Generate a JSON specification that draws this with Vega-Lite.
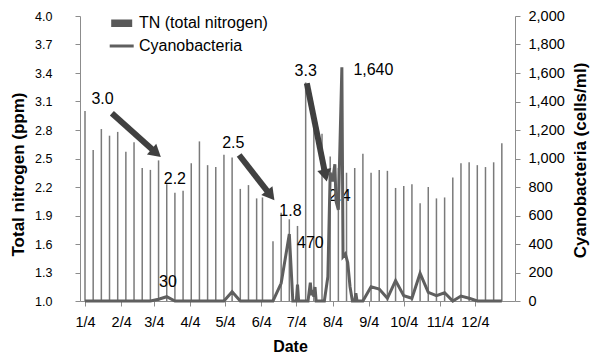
{
  "$schema": "https://vega.github.io/schema/vega-lite/v6.json",
  "width": 435,
  "height": 285,
  "autosize": {"type": "none"},
  "padding": {"left": 80, "top": 16, "right": 78, "bottom": 54},
  "background": "white",
  "config": {
    "view": {"stroke": null},
    "font": "Liberation Sans",
    "axis": {"grid": false, "domainColor": "#8c8c8c", "tickColor": "#8c8c8c", "tickSize": 5, "labelColor": "#000000", "titleColor": "#000000", "labelFont": "Liberation Sans", "titleFont": "Liberation Sans", "titleFontWeight": "bold"}
  },
  "datasets": {
    "tn": [
      {"date": "2011-01-04", "tn": 3.00, "series": "TN (total nitrogen)"},
      {"date": "2011-01-11", "tn": 2.59, "series": "TN (total nitrogen)"},
      {"date": "2011-01-18", "tn": 2.81, "series": "TN (total nitrogen)"},
      {"date": "2011-01-25", "tn": 2.74, "series": "TN (total nitrogen)"},
      {"date": "2011-02-01", "tn": 2.78, "series": "TN (total nitrogen)"},
      {"date": "2011-02-08", "tn": 2.57, "series": "TN (total nitrogen)"},
      {"date": "2011-02-15", "tn": 2.67, "series": "TN (total nitrogen)"},
      {"date": "2011-02-22", "tn": 2.40, "series": "TN (total nitrogen)"},
      {"date": "2011-03-01", "tn": 2.38, "series": "TN (total nitrogen)"},
      {"date": "2011-03-08", "tn": 2.48, "series": "TN (total nitrogen)"},
      {"date": "2011-03-15", "tn": 2.23, "series": "TN (total nitrogen)"},
      {"date": "2011-03-22", "tn": 2.14, "series": "TN (total nitrogen)"},
      {"date": "2011-03-29", "tn": 2.16, "series": "TN (total nitrogen)"},
      {"date": "2011-04-05", "tn": 2.45, "series": "TN (total nitrogen)"},
      {"date": "2011-04-12", "tn": 2.68, "series": "TN (total nitrogen)"},
      {"date": "2011-04-19", "tn": 2.43, "series": "TN (total nitrogen)"},
      {"date": "2011-04-26", "tn": 2.41, "series": "TN (total nitrogen)"},
      {"date": "2011-05-03", "tn": 2.54, "series": "TN (total nitrogen)"},
      {"date": "2011-05-10", "tn": 2.51, "series": "TN (total nitrogen)"},
      {"date": "2011-05-17", "tn": 2.18, "series": "TN (total nitrogen)"},
      {"date": "2011-05-24", "tn": 2.22, "series": "TN (total nitrogen)"},
      {"date": "2011-05-31", "tn": 2.08, "series": "TN (total nitrogen)"},
      {"date": "2011-06-05", "tn": 2.09, "series": "TN (total nitrogen)"},
      {"date": "2011-06-14", "tn": 1.63, "series": "TN (total nitrogen)"},
      {"date": "2011-06-21", "tn": 1.93, "series": "TN (total nitrogen)"},
      {"date": "2011-06-28", "tn": 1.86, "series": "TN (total nitrogen)"},
      {"date": "2011-07-05", "tn": 1.79, "series": "TN (total nitrogen)"},
      {"date": "2011-07-12", "tn": 3.30, "series": "TN (total nitrogen)"},
      {"date": "2011-07-19", "tn": 2.82, "series": "TN (total nitrogen)"},
      {"date": "2011-07-26", "tn": 2.76, "series": "TN (total nitrogen)"},
      {"date": "2011-08-02", "tn": 2.52, "series": "TN (total nitrogen)"},
      {"date": "2011-08-09", "tn": 2.40, "series": "TN (total nitrogen)"},
      {"date": "2011-08-16", "tn": 2.35, "series": "TN (total nitrogen)"},
      {"date": "2011-08-23", "tn": 2.40, "series": "TN (total nitrogen)"},
      {"date": "2011-08-30", "tn": 2.55, "series": "TN (total nitrogen)"},
      {"date": "2011-09-06", "tn": 2.35, "series": "TN (total nitrogen)"},
      {"date": "2011-09-13", "tn": 2.38, "series": "TN (total nitrogen)"},
      {"date": "2011-09-20", "tn": 2.37, "series": "TN (total nitrogen)"},
      {"date": "2011-09-27", "tn": 2.19, "series": "TN (total nitrogen)"},
      {"date": "2011-10-04", "tn": 2.21, "series": "TN (total nitrogen)"},
      {"date": "2011-10-11", "tn": 2.23, "series": "TN (total nitrogen)"},
      {"date": "2011-10-18", "tn": 2.03, "series": "TN (total nitrogen)"},
      {"date": "2011-10-25", "tn": 2.20, "series": "TN (total nitrogen)"},
      {"date": "2011-11-01", "tn": 2.08, "series": "TN (total nitrogen)"},
      {"date": "2011-11-08", "tn": 2.09, "series": "TN (total nitrogen)"},
      {"date": "2011-11-15", "tn": 2.30, "series": "TN (total nitrogen)"},
      {"date": "2011-11-22", "tn": 2.45, "series": "TN (total nitrogen)"},
      {"date": "2011-11-29", "tn": 2.46, "series": "TN (total nitrogen)"},
      {"date": "2011-12-06", "tn": 2.43, "series": "TN (total nitrogen)"},
      {"date": "2011-12-13", "tn": 2.41, "series": "TN (total nitrogen)"},
      {"date": "2011-12-20", "tn": 2.46, "series": "TN (total nitrogen)"},
      {"date": "2011-12-27", "tn": 2.66, "series": "TN (total nitrogen)"}
    ],
    "cyano": [
      {"date": "2011-01-04", "cells": 0, "series": "Cyanobacteria"},
      {"date": "2011-03-01", "cells": 0, "series": "Cyanobacteria"},
      {"date": "2011-03-08", "cells": 12, "series": "Cyanobacteria"},
      {"date": "2011-03-15", "cells": 30, "series": "Cyanobacteria"},
      {"date": "2011-03-22", "cells": 0, "series": "Cyanobacteria"},
      {"date": "2011-05-03", "cells": 0, "series": "Cyanobacteria"},
      {"date": "2011-05-10", "cells": 65, "series": "Cyanobacteria"},
      {"date": "2011-05-17", "cells": 0, "series": "Cyanobacteria"},
      {"date": "2011-06-14", "cells": 0, "series": "Cyanobacteria"},
      {"date": "2011-06-21", "cells": 124, "series": "Cyanobacteria"},
      {"date": "2011-06-28", "cells": 470, "series": "Cyanobacteria"},
      {"date": "2011-07-01", "cells": 0, "series": "Cyanobacteria"},
      {"date": "2011-07-04", "cells": 0, "series": "Cyanobacteria"},
      {"date": "2011-07-05", "cells": 115, "series": "Cyanobacteria"},
      {"date": "2011-07-06", "cells": 0, "series": "Cyanobacteria"},
      {"date": "2011-07-14", "cells": 0, "series": "Cyanobacteria"},
      {"date": "2011-07-16", "cells": 128, "series": "Cyanobacteria"},
      {"date": "2011-07-17", "cells": 40, "series": "Cyanobacteria"},
      {"date": "2011-07-18", "cells": 77, "series": "Cyanobacteria"},
      {"date": "2011-07-19", "cells": 30, "series": "Cyanobacteria"},
      {"date": "2011-07-20", "cells": 98, "series": "Cyanobacteria"},
      {"date": "2011-07-21", "cells": 0, "series": "Cyanobacteria"},
      {"date": "2011-07-28", "cells": 0, "series": "Cyanobacteria"},
      {"date": "2011-07-31", "cells": 170, "series": "Cyanobacteria"},
      {"date": "2011-08-02", "cells": 900, "series": "Cyanobacteria"},
      {"date": "2011-08-04", "cells": 840, "series": "Cyanobacteria"},
      {"date": "2011-08-06", "cells": 960, "series": "Cyanobacteria"},
      {"date": "2011-08-07", "cells": 700, "series": "Cyanobacteria"},
      {"date": "2011-08-09", "cells": 640, "series": "Cyanobacteria"},
      {"date": "2011-08-12", "cells": 1640, "series": "Cyanobacteria"},
      {"date": "2011-08-13", "cells": 311, "series": "Cyanobacteria"},
      {"date": "2011-08-15", "cells": 330, "series": "Cyanobacteria"},
      {"date": "2011-08-17", "cells": 270, "series": "Cyanobacteria"},
      {"date": "2011-08-19", "cells": 100, "series": "Cyanobacteria"},
      {"date": "2011-08-21", "cells": 0, "series": "Cyanobacteria"},
      {"date": "2011-08-23", "cells": 0, "series": "Cyanobacteria"},
      {"date": "2011-08-24", "cells": 55, "series": "Cyanobacteria"},
      {"date": "2011-08-25", "cells": 0, "series": "Cyanobacteria"},
      {"date": "2011-08-30", "cells": 0, "series": "Cyanobacteria"},
      {"date": "2011-09-06", "cells": 100, "series": "Cyanobacteria"},
      {"date": "2011-09-13", "cells": 84, "series": "Cyanobacteria"},
      {"date": "2011-09-20", "cells": 19, "series": "Cyanobacteria"},
      {"date": "2011-09-27", "cells": 143, "series": "Cyanobacteria"},
      {"date": "2011-10-04", "cells": 37, "series": "Cyanobacteria"},
      {"date": "2011-10-11", "cells": 19, "series": "Cyanobacteria"},
      {"date": "2011-10-18", "cells": 194, "series": "Cyanobacteria"},
      {"date": "2011-10-25", "cells": 61, "series": "Cyanobacteria"},
      {"date": "2011-11-01", "cells": 37, "series": "Cyanobacteria"},
      {"date": "2011-11-08", "cells": 58, "series": "Cyanobacteria"},
      {"date": "2011-11-15", "cells": 0, "series": "Cyanobacteria"},
      {"date": "2011-11-22", "cells": 35, "series": "Cyanobacteria"},
      {"date": "2011-11-29", "cells": 19, "series": "Cyanobacteria"},
      {"date": "2011-12-06", "cells": 0, "series": "Cyanobacteria"},
      {"date": "2011-12-27", "cells": 0, "series": "Cyanobacteria"}
    ],
    "tnlabels": [
      {"label": "3.0", "date": "2011-01-19", "tn": 3.126},
      {"label": "2.2", "date": "2011-03-22", "tn": 2.284},
      {"label": "2.5", "date": "2011-05-11", "tn": 2.663},
      {"label": "1.8", "date": "2011-06-29", "tn": 1.947},
      {"label": "3.3", "date": "2011-07-12", "tn": 3.421},
      {"label": "2.4", "date": "2011-08-10", "tn": 2.105}
    ],
    "arrows": [
      {"id": 1, "date": "2011-03-06", "tn": 2.557, "date2": "2011-01-27", "tn2": 2.976},
      {"id": 2, "date": "2011-06-12", "tn": 2.112, "date2": "2011-05-16", "tn2": 2.537},
      {"id": 3, "date": "2011-07-29", "tn": 2.321, "date2": "2011-07-13", "tn2": 3.292}
    ],
    "cyanolabels": [
      {"label": "30", "date": "2011-03-16", "cells": 130},
      {"label": "470", "date": "2011-07-16", "cells": 407},
      {"label": "1,640", "date": "2011-09-08", "cells": 1621}
    ]
  },
  "encoding": {
    "x": {
      "field": "date", "type": "temporal",
      "scale": {"type": "utc", "domain": [{"year": 2011, "month": 1, "date": 4, "utc": true}, {"year": 2012, "month": 1, "date": 3, "utc": true}]},
      "axis": {
        "title": "Date",
        "values": [
          {"year": 2011, "month": 1, "date": 4, "utc": true},
          {"year": 2011, "month": 2, "date": 4, "utc": true},
          {"year": 2011, "month": 3, "date": 4, "utc": true},
          {"year": 2011, "month": 4, "date": 4, "utc": true},
          {"year": 2011, "month": 5, "date": 4, "utc": true},
          {"year": 2011, "month": 6, "date": 4, "utc": true},
          {"year": 2011, "month": 7, "date": 4, "utc": true},
          {"year": 2011, "month": 8, "date": 4, "utc": true},
          {"year": 2011, "month": 9, "date": 4, "utc": true},
          {"year": 2011, "month": 10, "date": 4, "utc": true},
          {"year": 2011, "month": 11, "date": 4, "utc": true},
          {"year": 2011, "month": 12, "date": 4, "utc": true}
        ],
        "format": "%-m/%-d",
        "labelFontSize": 14.5, "labelPadding": 9, "labelFlush": false, "labelOverlap": false,
        "titleFontSize": 16, "titleX": 210, "titleY": 45, "titleAlign": "center", "titleBaseline": "middle"
      }
    }
  },
  "layer": [
    {
      "encoding": {
        "y": {
          "field": "tn", "type": "quantitative",
          "scale": {"domain": [1, 4], "nice": false, "zero": false},
          "axis": {
            "title": "Total nitrogen (ppm)",
            "values": [1.0, 1.3, 1.6, 1.9, 2.2, 2.5, 2.8, 3.1, 3.4, 3.7, 4.0],
            "format": ".1f", "labelFontSize": 12.5, "labelPadding": 23, "labelOverlap": false,
            "titleFontSize": 17, "titleAngle": -90, "titleX": -61.5, "titleY": 158, "titleAlign": "center", "titleBaseline": "middle"
          }
        }
      },
      "layer": [
        {
          "data": {"name": "tn"},
          "mark": {"type": "bar", "width": 1.5, "opacity": 0.8},
          "encoding": {
            "y2": {"datum": 1},
            "color": {
              "field": "series", "type": "nominal",
              "scale": {"domain": ["TN (total nitrogen)", "Cyanobacteria"], "range": ["#595959", "#5f5f5f"]},
              "legend": {
                "title": null, "orient": "none", "legendX": 33.7, "legendY": -0.7, "padding": 0,
                "labelFont": "Liberation Sans", "labelFontSize": 16, "labelColor": "#000000",
                "labelOffset": 9.3, "rowPadding": 5.7, "symbolSize": 100, "symbolOpacity": 1, "symbolStrokeWidth": 3,
                "encode": {
                  "symbols": {
                    "update": {
                      "shape": {"signal": "datum.value === 'Cyanobacteria' ? 'M-2.4,0H2.4' : 'M-2.1,-0.45H2.1M-2.1,0H2.1M-2.1,0.45H2.1'"},
                      "strokeWidth": {"value": 3},
                      "opacity": {"value": 1}
                    }
                  }
                }
              }
            }
          }
        },
        {
          "data": {"name": "arrows"},
          "mark": {"type": "rule", "strokeWidth": 6, "color": "#404040", "strokeCap": "butt"},
          "encoding": {
            "x2": {"field": "date2"},
            "y2": {"field": "tn2"}
          }
        },
        {
          "data": {"name": "arrows"},
          "transform": [{"filter": "datum.id === 1"}],
          "mark": {"type": "point", "shape": "triangle-up", "filled": true, "size": 200, "angle": 131, "color": "#404040", "opacity": 1}
        },
        {
          "data": {"name": "arrows"},
          "transform": [{"filter": "datum.id === 2"}],
          "mark": {"type": "point", "shape": "triangle-up", "filled": true, "size": 200, "angle": 142, "color": "#404040", "opacity": 1}
        },
        {
          "data": {"name": "arrows"},
          "transform": [{"filter": "datum.id === 3"}],
          "mark": {"type": "point", "shape": "triangle-up", "filled": true, "size": 200, "angle": 168, "color": "#404040", "opacity": 1}
        },
        {
          "data": {"name": "tnlabels"},
          "mark": {"type": "text", "font": "Liberation Sans", "fontSize": 16, "color": "#000000", "align": "center", "baseline": "middle"},
          "encoding": {
            "text": {"field": "label"}
          }
        }
      ]
    },
    {
      "encoding": {
        "y": {
          "field": "cells", "type": "quantitative",
          "scale": {"domain": [0, 2000], "nice": false},
          "axis": {
            "orient": "right", "title": "Cyanobacteria (cells/ml)",
            "values": [0, 200, 400, 600, 800, 1000, 1200, 1400, 1600, 1800, 2000],
            "format": ",.0f", "labelFontSize": 14.5, "labelPadding": 8, "labelOverlap": false,
            "titleFontSize": 17, "titleAngle": -90, "titleX": 65, "titleY": 144, "titleAlign": "center", "titleBaseline": "middle"
          }
        }
      },
      "layer": [
        {
          "data": {"name": "cyano"},
          "mark": {"type": "line", "strokeWidth": 3, "interpolate": "linear", "strokeJoin": "miter"},
          "encoding": {
            "color": {
              "field": "series", "type": "nominal",
              "scale": {"domain": ["TN (total nitrogen)", "Cyanobacteria"], "range": ["#595959", "#5f5f5f"]},
              "legend": {
                "title": null, "orient": "none", "legendX": 33.7, "legendY": -0.7, "padding": 0,
                "labelFont": "Liberation Sans", "labelFontSize": 16, "labelColor": "#000000",
                "labelOffset": 9.3, "rowPadding": 5.7, "symbolSize": 100, "symbolOpacity": 1, "symbolStrokeWidth": 3,
                "encode": {
                  "symbols": {
                    "update": {
                      "shape": {"signal": "datum.value === 'Cyanobacteria' ? 'M-2.4,0H2.4' : 'M-2.1,-0.45H2.1M-2.1,0H2.1M-2.1,0.45H2.1'"},
                      "strokeWidth": {"value": 3},
                      "opacity": {"value": 1}
                    }
                  }
                }
              }
            }
          }
        },
        {
          "data": {"name": "cyanolabels"},
          "mark": {"type": "text", "font": "Liberation Sans", "fontSize": 16, "color": "#000000", "align": "center", "baseline": "middle"},
          "encoding": {
            "text": {"field": "label"}
          }
        }
      ]
    }
  ],
  "resolve": {"scale": {"y": "independent"}}
}
